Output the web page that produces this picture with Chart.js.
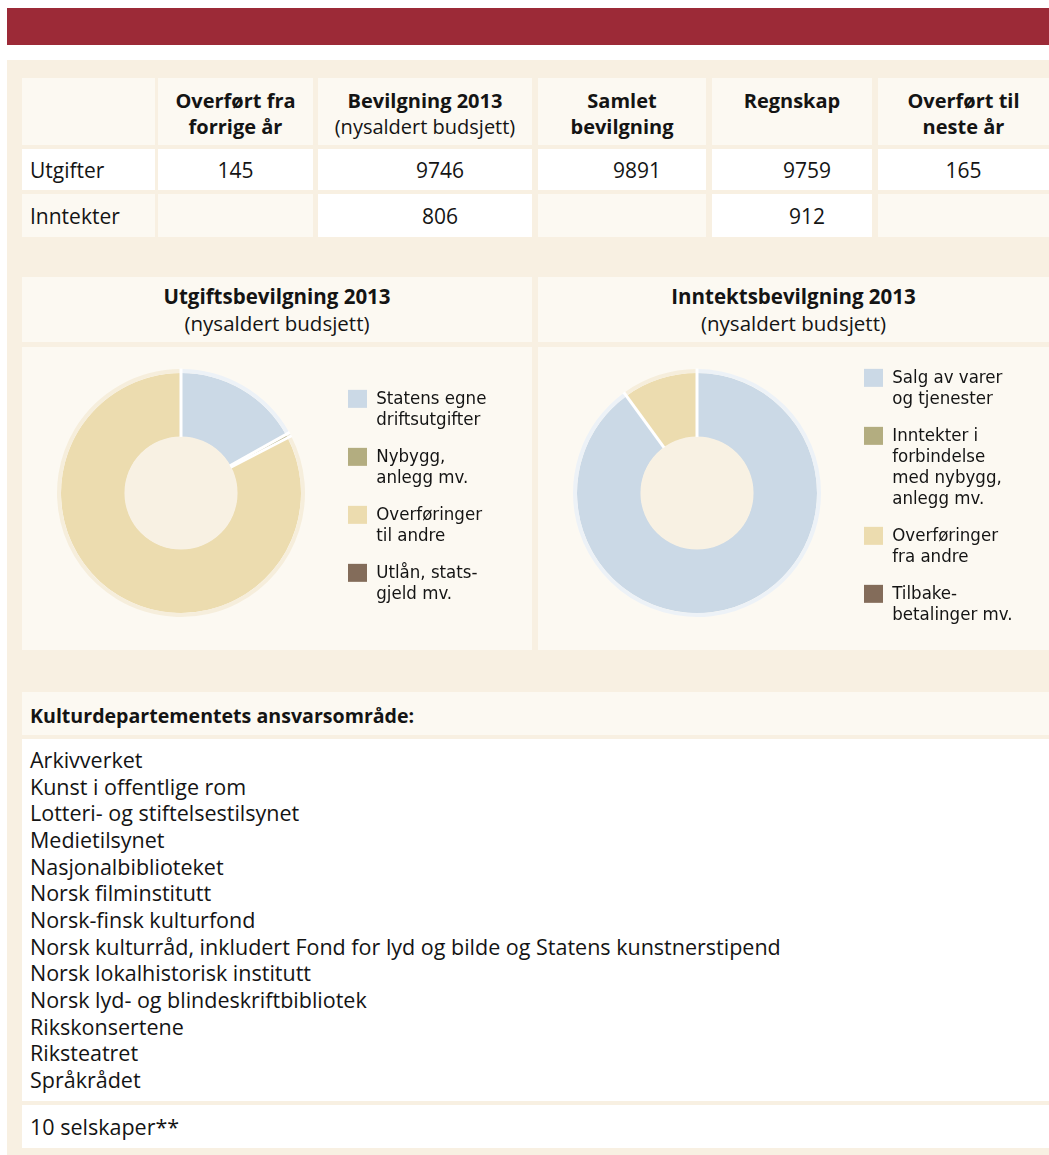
<!DOCTYPE html>
<html lang="no">
<head>
<meta charset="utf-8">
<title>Kulturdepartementet 2013</title>
<script src="https://cdn.jsdelivr.net/npm/chart.js@4.4.1/dist/chart.umd.min.js"></script>
<style>
  html, body { margin: 0; padding: 0; background: #fff; }
  body { width: 1049px; height: 1155px; position: relative; overflow: hidden;
         font-family: "Open Sans", "Noto Sans", sans-serif; color: #141414; }
  .abs { position: absolute; box-sizing: border-box; }
  #topbar { left: 7px; top: 8px; width: 1042px; height: 37px; background: #9c2a37; }
  #panel { left: 7px; top: 60px; width: 1042px; height: 1095px; background: #f8f0e2; }
  .light { background: #fcf9f2; }
  .white { background: #fff; }
  .th { font-weight: 700; font-size: 20px; line-height: 26px; text-align: center; padding-top: 10px; }
  .th span { font-weight: 400; }
  .td { font-size: 21px; display: flex; align-items: center; justify-content: center; }
  .td.label { justify-content: flex-start; padding-left: 8px; }
  .td.shift { padding-left: 30px; }
  .ch { font-size: 20.5px; line-height: 27px; text-align: center; padding-top: 6px; }
  .ch b { font-weight: 700; }
  #areaHead { left: 22px; top: 692px; width: 1027px; height: 43px; font-weight: 700; font-size: 19.6px;
              padding-left: 8px; display: flex; align-items: center; padding-top: 4px; }
  #areaList { left: 22px; top: 739px; width: 1027px; height: 362px; font-size: 21.5px;
              line-height: 26.67px; padding: 8px 0 0 8px; }
  #companies { left: 22px; top: 1105px; width: 1027px; height: 43px; font-size: 21.5px;
               padding-left: 8px; display: flex; align-items: center; }
  canvas { position: absolute; }
</style>
</head>
<body>
<div id="topbar" class="abs"></div>
<div id="panel" class="abs"></div>
<div id="table"></div>
<div id="chartHeads"></div>
<canvas id="expenseChart" width="510" height="320" style="left:22px; top:333px;"></canvas>
<canvas id="incomeChart" width="510" height="320" style="left:538px; top:333px;"></canvas>
<div id="areaHead" class="abs light">Kulturdepartementets ansvarsområde:</div>
<div id="areaList" class="abs white"></div>
<div id="companies" class="abs white"></div>

<script>
// table: mill. kroner
const columnTitles = [['Overført fra', 'forrige år'], ['Bevilgning 2013', '(nysaldert budsjett)'], ['Samlet', 'bevilgning'], ['Regnskap'], ['Overført til', 'neste år']];
const rowTitles = ['Utgifter', 'Inntekter'];
const expenseRow = [145, 9746, 9891, 9759, 165];
const incomeRow = [null, 806, null, 912, null];

// doughnuts: share of the appropriation, per cent
const expenseTitle = ['Utgiftsbevilgning 2013', '(nysaldert budsjett)'];
const expenseLabels = [['Statens egne', 'driftsutgifter'], ['Nybygg,', 'anlegg mv.'], ['Overføringer', 'til andre'], ['Utlån, stats-', 'gjeld mv.']];
const expenseShares = [16.9, 0.5, 82.6, 0];

const incomeTitle = ['Inntektsbevilgning 2013', '(nysaldert budsjett)'];
const incomeLabels = [['Salg av varer', 'og tjenester'], ['Inntekter i', 'forbindelse', 'med nybygg,', 'anlegg mv.'], ['Overføringer', 'fra andre'], ['Tilbake-', 'betalinger mv.']];
const incomeShares = [90, 0, 10, 0];

const sliceColors = ['#cbd9e6', '#b3ad80', '#ecdcaf', '#836c5a'];
const haloColors = ['#edf2f7', '#e9e6d6', '#f6eedc', '#e2dbd3'];

const areas = ['Arkivverket', 'Kunst i offentlige rom', 'Lotteri- og stiftelsestilsynet', 'Medietilsynet',
  'Nasjonalbiblioteket', 'Norsk filminstitutt', 'Norsk-finsk kulturfond',
  'Norsk kulturråd, inkludert Fond for lyd og bilde og Statens kunstnerstipend',
  'Norsk lokalhistorisk institutt', 'Norsk lyd- og blindeskriftbibliotek', 'Rikskonsertene', 'Riksteatret', 'Språkrådet'];
const companies = '10 selskaper**';

// ---- layout of the html parts
const colX = [22, 158, 318, 538, 712, 878];
const colW = [133, 155, 214, 168, 160, 171];
const rowY = [78, 149, 194];
const rowH = [67, 41, 43];

function cell(cls, x, y, w, h, html) {
  const d = document.createElement('div');
  d.className = 'abs ' + cls;
  d.style.left = x + 'px';
  d.style.top = y + 'px';
  d.style.width = w + 'px';
  d.style.height = h + 'px';
  d.innerHTML = html;
  return d;
}

const table = document.getElementById('table');
table.appendChild(cell('light', colX[0], rowY[0], colW[0], rowH[0], ''));
columnTitles.forEach((t, i) => {
  let html = t[0];
  if (t[1]) html += '<br>' + (t[1].startsWith('(') ? '<span>' + t[1] + '</span>' : t[1]);
  table.appendChild(cell('light th', colX[i + 1], rowY[0], colW[i + 1], rowH[0], html));
});
[expenseRow, incomeRow].forEach((row, r) => {
  table.appendChild(cell((r === 0 ? 'white' : 'light') + ' td label', colX[0], rowY[r + 1], colW[0], rowH[r + 1], rowTitles[r]));
  row.forEach((v, i) => {
    const shift = (i >= 1 && i <= 3) ? ' shift' : '';
    table.appendChild(cell((v === null ? 'light' : 'white') + ' td' + shift, colX[i + 1], rowY[r + 1], colW[i + 1], rowH[r + 1], v === null ? '' : v));
  });
});

const heads = document.getElementById('chartHeads');
[[expenseTitle, 22, 510], [incomeTitle, 538, 511]].forEach(([t, x, w]) => {
  heads.appendChild(cell('light ch', x, 277, w, 65, '<b>' + t[0] + '</b><br>' + t[1]));
  heads.appendChild(cell('light', x, 347, w, 303, ''));
});

document.getElementById('areaList').innerHTML = areas.join('<br>');
document.getElementById('companies').textContent = companies;

// ---- charts
// legend gets a fixed width so the doughnut sits where it does in the print
const fixedLegendWidth = {
  id: 'fixedLegendWidth',
  beforeLayout(chart, args, opts) {
    const legend = chart.legend;
    if (!legend || legend._fixedWidth) return;
    const fit = legend.fit;
    legend.fit = function() {
      fit.call(this);
      this.width = opts.width;
    };
    legend._fixedWidth = true;
  }
};

// white cuts between slices and the pale centre
const sliceCuts = {
  id: 'sliceCuts',
  afterDatasetsDraw(chart, args, opts) {
    const ctx = chart.ctx;
    const halo = chart.getDatasetMeta(0).data;
    const main = chart.getDatasetMeta(1).data;
    const c = main[0];
    const outer = halo[0].outerRadius;
    ctx.save();
    ctx.fillStyle = opts.centre;
    ctx.beginPath();
    ctx.arc(c.x, c.y, c.innerRadius + 0.5, 0, Math.PI * 2);
    ctx.fill();
    ctx.strokeStyle = opts.color;
    ctx.lineWidth = opts.width;
    main.forEach(arc => {
      if (!(arc.circumference > 0)) return;
      const a = arc.startAngle;
      ctx.beginPath();
      ctx.moveTo(arc.x + Math.cos(a) * arc.innerRadius, arc.y + Math.sin(a) * arc.innerRadius);
      ctx.lineTo(arc.x + Math.cos(a) * (outer + 0.5), arc.y + Math.sin(a) * (outer + 0.5));
      ctx.stroke();
    });
    ctx.restore();
  }
};

function makeDoughnut(id, labels, shares) {
  new Chart(document.getElementById(id), {
    type: 'doughnut',
    data: {
      labels: labels,
      datasets: [
        { data: shares, backgroundColor: haloColors, borderWidth: 0, weight: 4 },
        { data: shares, backgroundColor: sliceColors, borderWidth: 0, weight: 64 }
      ]
    },
    options: {
      responsive: false,
      animation: false,
      radius: 124,
      cutout: '45.2%',
      layout: { padding: { left: 8, right: 0, top: 0, bottom: 0 } },
      plugins: {
        tooltip: { enabled: false },
        fixedLegendWidth: { width: 200 },
        sliceCuts: { color: '#ffffff', width: 3, centre: '#f8f1e3' },
        legend: {
          position: 'right',
          align: 'center',
          title: { display: true, text: ' ', font: { size: 1 }, padding: { top: 8, bottom: 0 } },
          labels: {
            boxWidth: 19,
            boxHeight: 18,
            padding: 16,
            color: '#141414',
            font: { family: '"DejaVu Sans Condensed", Roboto, sans-serif', size: 18.5, lineHeight: 1.135 },
            generateLabels: () => labels.map((text, i) => ({
              text: text,
              fillStyle: sliceColors[i],
              strokeStyle: sliceColors[i],
              fontColor: '#141414',
              lineWidth: 0,
              hidden: false,
              index: i
            }))
          }
        }
      }
    },
    plugins: [fixedLegendWidth, sliceCuts]
  });
}

makeDoughnut('expenseChart', expenseLabels, expenseShares);
makeDoughnut('incomeChart', incomeLabels, incomeShares);
</script>
</body>
</html>
